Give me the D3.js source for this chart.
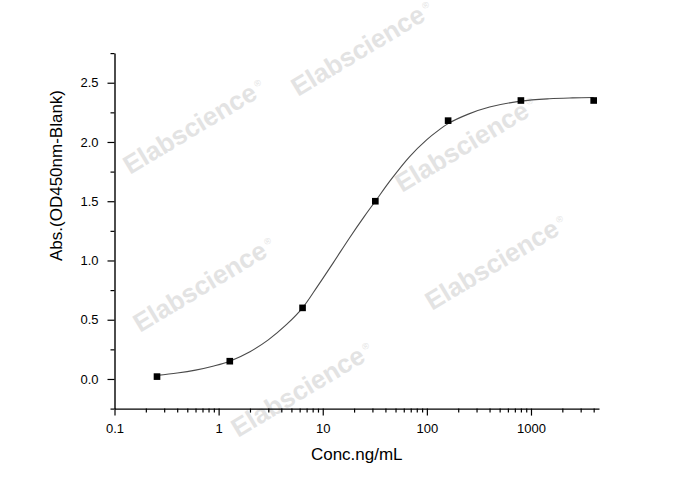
<!DOCTYPE html>
<html>
<head>
<meta charset="utf-8">
<script src="https://cdn.jsdelivr.net/npm/d3@7/dist/d3.min.js"></script>
<style>
  html, body { margin: 0; padding: 0; background: #ffffff; }
  svg { display: block; }
</style>
</head>
<body>
<svg id="chart" width="688" height="490"></svg>
<script>
// ---- data ----
const conc = [0.256, 1.28, 6.4, 32, 160, 800, 4000];          // ng/mL
const od   = [0.02, 0.15, 0.60, 1.50, 2.18, 2.35, 2.35];       // Abs.

// fitted curve
const curveConc = [0.256, 0.4, 0.6, 0.9, 1.28, 2, 3, 4.5, 6.4, 9, 12.6, 18, 25, 32, 45, 68, 100, 130, 160, 250, 400, 800, 1500, 2500, 4000];
const curveOd   = [0.03, 0.05, 0.075, 0.11, 0.15, 0.23, 0.33, 0.46, 0.60, 0.788, 0.98, 1.188, 1.37, 1.50, 1.68, 1.875, 2.02, 2.10, 2.155, 2.235, 2.295, 2.345, 2.365, 2.372, 2.375];

const xTicks = [0.1, 1, 10, 100, 1000];
const xTickLabels = ["0.1", "1", "10", "100", "1000"];
const yTicks = [0, 0.5, 1.0, 1.5, 2.0, 2.5];
const yTickLabels = ["0.0", "0.5", "1.0", "1.5", "2.0", "2.5"];

const xTitle = "Conc.ng/mL";
const yTitle = "Abs.(OD450nm-Blank)";
const watermark = "Elabscience";

// ---- layout ----
const svg = d3.select("#chart");
const font = "'Liberation Sans', Arial, Helvetica, sans-serif";

const x = d3.scaleLog().domain([0.1, 4500]).range([114.5, 599]);
const y = d3.scaleLinear().domain([-0.25, 2.75]).range([408.6, 53.1]);

// watermarks (behind)
const wmPos = [[130, 175], [298, 97], [402, 193], [140, 333], [432, 311], [238, 438]];
const wm = svg.append("g").attr("class", "watermarks");
wmPos.forEach(p => {
  const t = wm.append("text")
    .attr("transform", `translate(${p[0]},${p[1]}) rotate(-31)`)
    .attr("font-family", font)
    .attr("font-weight", "bold")
    .attr("font-size", 26)
    .attr("fill", "#e3e3e3");
  t.append("tspan").text(watermark);
  t.append("tspan").attr("font-size", 9).attr("font-weight", "normal").attr("dy", -10).attr("dx", 3).text("®");
});

// minor tick values
const xMinor = [];
[0.1, 1, 10, 100, 1000].forEach(d => { for (let k = 2; k <= 9; k++) { const v = d * k; if (v <= 4500) xMinor.push(v); } });
const yMinor = [-0.25, 0.25, 0.75, 1.25, 1.75, 2.25, 2.75];

const axisColor = "#000";

// x axis
const gx = svg.append("g").attr("transform", `translate(0,${y(-0.25)})`);
gx.call(d3.axisBottom(x).tickValues(xMinor).tickSize(4).tickSizeOuter(0).tickFormat(""));
gx.call(g => g.select(".domain").remove());
const gx2 = svg.append("g").attr("transform", `translate(0,${y(-0.25)})`);
gx2.call(d3.axisBottom(x).tickValues(xTicks).tickSize(7).tickSizeOuter(0)
  .tickFormat((d, i) => xTickLabels[i]).tickPadding(8));

// y axis
const gy = svg.append("g").attr("transform", `translate(${x(0.1)},0)`);
gy.call(d3.axisLeft(y).tickValues(yMinor).tickSize(4).tickSizeOuter(0).tickFormat(""));
gy.call(g => g.select(".domain").remove());
const gy2 = svg.append("g").attr("transform", `translate(${x(0.1)},0)`);
gy2.call(d3.axisLeft(y).tickValues(yTicks).tickSize(7).tickSizeOuter(0)
  .tickFormat((d, i) => yTickLabels[i]).tickPadding(9));

svg.selectAll(".domain").attr("stroke", axisColor).attr("stroke-width", 1.4);
svg.selectAll(".tick line").attr("stroke", axisColor).attr("stroke-width", 1.2);
svg.selectAll(".tick text").attr("font-family", font).attr("font-size", 13).attr("fill", "#000");

// axis titles
svg.append("text")
  .attr("x", (x(0.1) + x(4500)) / 2).attr("y", 460)
  .attr("text-anchor", "middle")
  .attr("font-family", font).attr("font-size", 17).attr("fill", "#000")
  .text(xTitle);

svg.append("text")
  .attr("transform", `translate(61.5,175.5) rotate(-90)`)
  .attr("text-anchor", "middle")
  .attr("font-family", font).attr("font-size", 17).attr("fill", "#000")
  .text(yTitle);

// fitted curve
const curvePts = curveConc.map((c, i) => [c, curveOd[i]]);
svg.append("path")
  .datum(curvePts)
  .attr("fill", "none")
  .attr("stroke", "#4a4a4a")
  .attr("stroke-width", 1.1)
  .attr("d", d3.line().x(d => x(d[0])).y(d => y(d[1])).curve(d3.curveCatmullRom.alpha(0.5)));

// data markers
const pts = conc.map((c, i) => [c, od[i]]);
svg.append("g").selectAll("path")
  .data(pts).join("path")
  .attr("transform", d => `translate(${x(d[0])},${y(d[1])})`)
  .attr("d", d3.symbol().type(d3.symbolSquare).size(44))
  .attr("fill", "#000");
</script>
</body>
</html>
